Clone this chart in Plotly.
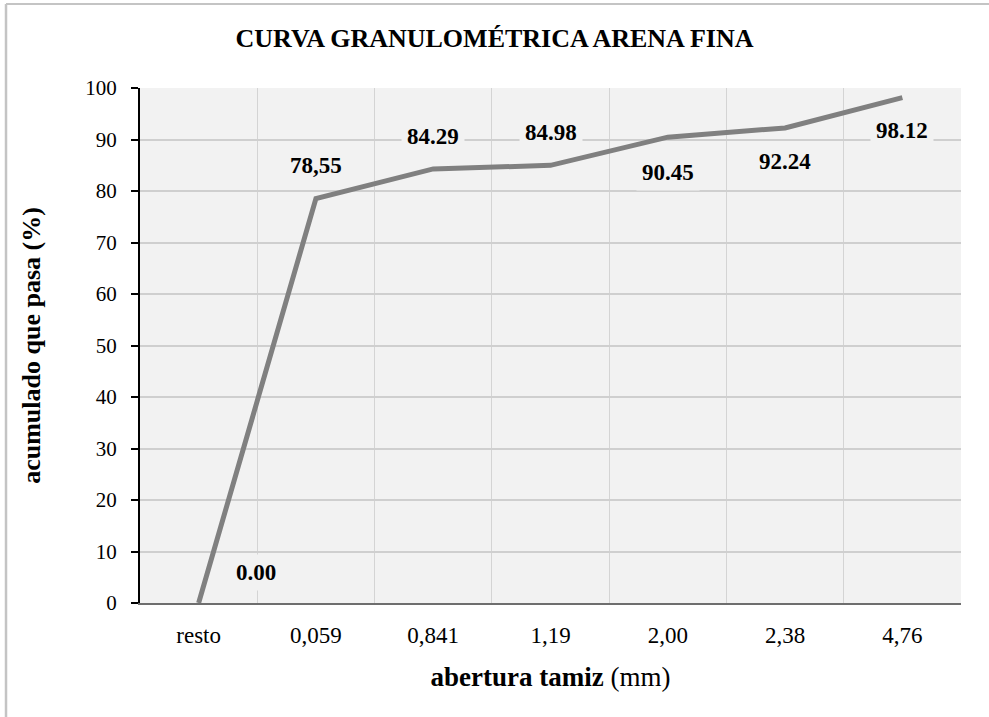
import plotly.graph_objects as go

# Sieve openings (categorical axis) and cumulative passing percentages
aberturas = ["resto", "0,059", "0,841", "1,19", "2,00", "2,38", "4,76"]
pasa = [0.00, 78.55, 84.29, 84.98, 90.45, 92.24, 98.12]
etiquetas = ["0.00", "78,55", "84.29", "84.98", "90.45", "92.24", "98.12"]
y_ticks = list(range(0, 101, 10))

# label placement relative to each point (pixels)
label_dx = [57, 0, 0, 0, 0, 0, 0]
label_dy = [31, 33, 32, 33, -35, -34, -33]

SERIF = "Liberation Serif"
PLOT_BG = "#f2f2f2"

fig = go.Figure()
fig.add_trace(go.Scatter(
    x=aberturas, y=pasa, mode="lines",
    line=dict(color="#808080", width=5),
    hoverinfo="x+y", showlegend=False,
))

for xv, yv, txt, dx, dy in zip(aberturas, pasa, etiquetas, label_dx, label_dy):
    fig.add_annotation(
        x=xv, y=yv, text=f"<b>{txt}</b>", showarrow=False,
        xshift=dx, yshift=dy,
        font=dict(family=SERIF, size=23, color="#000000"),
        bgcolor=PLOT_BG, borderpad=5,
    )

# outer frame of the chart (top and left edges)
fig.add_shape(type="line", xref="paper", yref="paper",
              x0=-0.1632, x1=1.05, y0=1.163, y1=1.163,
              line=dict(color="#c4c4c4", width=2))
fig.add_shape(type="line", xref="paper", yref="paper",
              x0=-0.1632, x1=-0.1632, y0=1.163, y1=-0.25,
              line=dict(color="#c4c4c4", width=2.5))

fig.update_layout(
    width=989, height=717,
    margin=dict(l=140, r=28, t=88, b=114),
    paper_bgcolor="#ffffff",
    plot_bgcolor=PLOT_BG,
    font=dict(family=SERIF, color="#000000"),
    title=dict(
        text="<b>CURVA GRANULOMÉTRICA ARENA FINA</b>",
        x=0.5, xanchor="center", y=0.947, yanchor="middle",
        font=dict(family=SERIF, size=26, color="#000000"),
    ),
    xaxis=dict(
        type="category",
        categoryorder="array", categoryarray=aberturas,
        range=[-0.5, len(aberturas) - 0.5],
        tickson="boundaries",
        showgrid=True, gridcolor="#d4d4d4", gridwidth=1,
        ticks="", ticklen=0,
        ticklabelstandoff=11,
        showline=True, linecolor="#6e6e6e", linewidth=1.5,
        tickfont=dict(family=SERIF, size=23, color="#000000"),
        title=dict(
            text="<b>abertura tamiz</b> (mm)",
            font=dict(family=SERIF, size=27, color="#000000"),
            standoff=20,
        ),
        zeroline=False,
    ),
    yaxis=dict(
        range=[0, 100],
        tickvals=y_ticks,
        showgrid=True, gridcolor="#cfcfcf", gridwidth=2,
        ticks="outside", ticklen=7, tickwidth=2, tickcolor="#000000",
        ticklabelstandoff=10,
        showline=True, linecolor="#000000", linewidth=2,
        tickfont=dict(family=SERIF, size=21, color="#000000"),
        title=dict(
            text="<b>acumulado que pasa (%)</b>",
            font=dict(family=SERIF, size=26, color="#000000"),
            standoff=37,
        ),
        zeroline=False,
    ),
)

fig.write_html("out.html")
